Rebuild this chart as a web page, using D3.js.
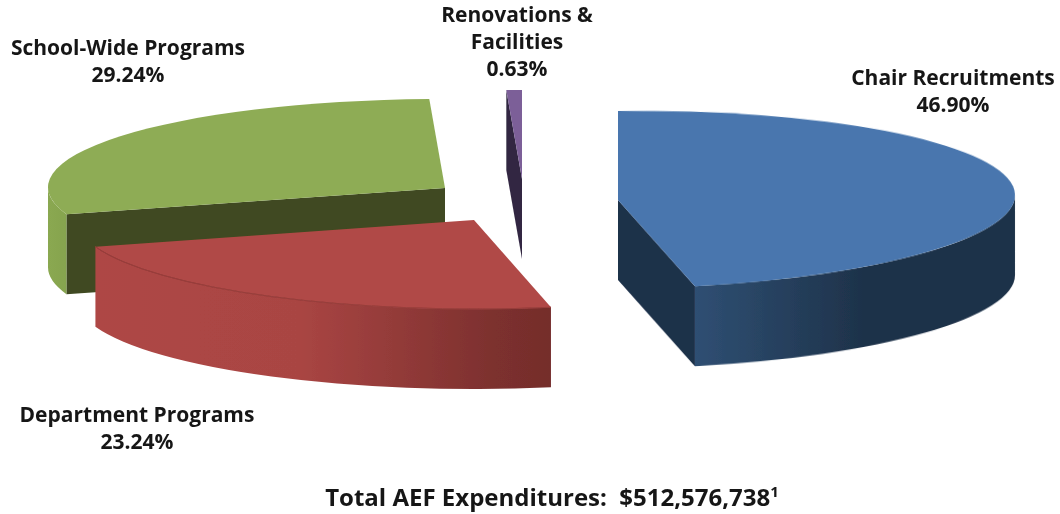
<!DOCTYPE html>
<html>
<head>
<meta charset="utf-8">
<script src="https://cdn.jsdelivr.net/npm/d3@7"></script>
<style>
html, body { margin: 0; padding: 0; background: #fff; }
svg { display: block; }
text { font-family: "Open Sans", sans-serif; font-weight: 700; fill: #151515; }
</style>
</head>
<body>
<script>
var W = 1060, H = 514;

// data
var categories = ["Chair Recruitments", "Department Programs", "School-Wide Programs", "Renovations & Facilities"];
var shares = [46.90, 23.24, 29.24, 0.63];
var shareLabels = ["46.90%", "23.24%", "29.24%", "0.63%"];
var titleText = "Total AEF Expenditures:  $512,576,738";
var titleNote = "1";

// look
var topColors = ["#4876ae", "#b04946", "#8eac54", "#7b5e98"];
var cutColors = ["#1c3049", "#7a2f2d", "#3f4a20", "#322842"];
var wallStops = [
    [["0%", "#2f4f73"], ["55%", "#1d3148"], ["100%", "#1d3148"]],
    [["0%", "#ae4745"], ["45%", "#a94543"], ["88%", "#7c302e"], ["100%", "#752d2b"]],
    [["0%", "#8aa851"], ["100%", "#86a44f"]],
    [["0%", "#322842"], ["100%", "#322842"]]
];
// exploded slice apex positions and slight tilt, one per category
var apexX = [618, 474, 445, 522];
var apexY = [200, 220, 188, 179];
var apexTilt = [-0.7, 0, 0.1, 0];
var labelLines = [["Chair Recruitments"], ["Department Programs"], ["School-Wide Programs"], ["Renovations &", "Facilities"]];
var labelX = [953, 137, 128, 517];
var labelY = [85, 422, 55, 22];

var RX = 397, RY = 89, DEPTH = 80, K = RY / RX;
var LINE_H = 27;

var svg = d3.select("body").append("svg")
    .attr("width", W)
    .attr("height", H)
    .attr("viewBox", "0 0 " + W + " " + H);

var defs = svg.append("defs");
// the reference is a slightly soft upscaled image
var soft = defs.append("filter").attr("id", "soft");
soft.append("feGaussianBlur").attr("stdDeviation", 0.45);

wallStops.forEach(function(stops, i) {
    var g = defs.append("linearGradient").attr("id", "wall" + i);
    stops.forEach(function(s) {
        g.append("stop").attr("offset", s[0]).attr("stop-color", s[1]);
    });
});

var pie = d3.pie().sort(null).value(function(d) { return d; });
var arcs = pie(shares);
var topArc = d3.arc().innerRadius(0).outerRadius(RX);

// clockwise from north, as d3.pie, to canvas angle
function canvasAngle(a) {
    return a - Math.PI / 2;
}

// outer skin between two pie angles, in unsquashed coordinates
function wallPath(a0, a1) {
    var drop = DEPTH / K;
    var p = d3.path();
    p.arc(0, 0, RX, canvasAngle(a0), canvasAngle(a1), false);
    p.lineTo(RX * Math.sin(a1), -RX * Math.cos(a1) + drop);
    p.arc(0, drop, RX, canvasAngle(a1), canvasAngle(a0), true);
    p.closePath();
    return p.toString();
}

function cutPath(a) {
    var drop = DEPTH / K;
    var x = RX * Math.sin(a), y = -RX * Math.cos(a);
    var p = d3.path();
    p.moveTo(0, 0);
    p.lineTo(x, y);
    p.lineTo(x, y + drop);
    p.lineTo(0, drop);
    p.closePath();
    return p.toString();
}

var order = d3.range(arcs.length).sort(function(a, b) {
    return apexY[a] - apexY[b];
});

var pieG = svg.append("g").attr("filter", "url(#soft)");

order.forEach(function(i) {
    var d = arcs[i];
    var g = pieG.append("g")
        .attr("transform", "translate(" + apexX[i] + "," + apexY[i] + ") skewY(" + apexTilt[i] + ") scale(1," + K + ")");

    // cut faces turned toward the viewer
    if (Math.sin(d.startAngle) < -1e-6) {
        g.append("path").attr("d", cutPath(d.startAngle)).attr("fill", cutColors[i]);
    }
    if (Math.sin(d.endAngle) > 1e-6) {
        g.append("path").attr("d", cutPath(d.endAngle)).attr("fill", cutColors[i]);
    }

    // rim, only the front half shows
    var a0 = Math.max(d.startAngle, Math.PI / 2);
    var a1 = Math.min(d.endAngle, 3 * Math.PI / 2);
    if (a1 > a0) {
        g.append("path").attr("d", wallPath(a0, a1)).attr("fill", "url(#wall" + i + ")");
    }

    g.append("path").attr("d", topArc(d)).attr("fill", topColors[i]);
    if (i == 1) {
        // faint rim edge, top and wall have nearly the same colour here
        g.append("path")
            .attr("d", d3.arc().innerRadius(RX).outerRadius(RX)(d))
            .attr("fill", "none")
            .attr("stroke", "#983d3b")
            .attr("stroke-width", 1)
            .attr("vector-effect", "non-scaling-stroke");
    }
});

var textG = svg.append("g").attr("filter", "url(#soft)");

categories.forEach(function(c, i) {
    var lines = labelLines[i].concat([shareLabels[i]]);
    lines.forEach(function(line, j) {
        textG.append("text")
            .attr("x", labelX[i])
            .attr("y", labelY[i] + j * LINE_H)
            .attr("text-anchor", "middle")
            .attr("font-size", 21)
            .text(line);
    });
});

var title = textG.append("text")
    .attr("x", 552)
    .attr("y", 506)
    .attr("text-anchor", "middle")
    .attr("font-size", 24)
    .attr("xml:space", "preserve")
    .style("white-space", "pre")
    .text(titleText);
title.append("tspan")
    .attr("font-size", 15)
    .attr("dy", -9)
    .text(titleNote);
</script>
</body>
</html>
